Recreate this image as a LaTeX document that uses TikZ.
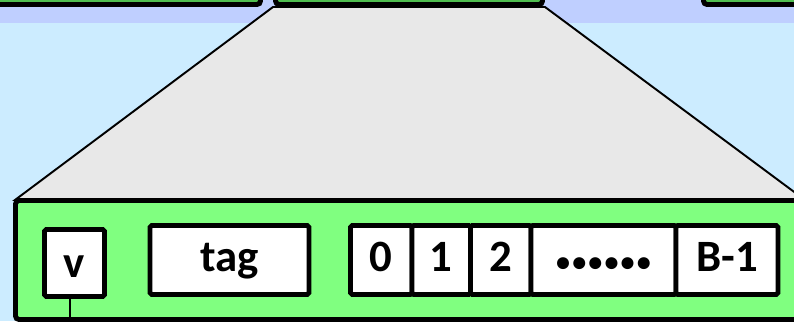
\documentclass[tikz,border=0pt]{standalone}
\usepackage{fontspec}
\setmainfont{Carlito}
\usepackage{tikz}
\usetikzlibrary{positioning}
\definecolor{bandviolet}{RGB}{191,207,255}
\definecolor{bandcyan}{RGB}{204,236,255}
\definecolor{zoomgray}{RGB}{232,232,232}
\definecolor{linegreen}{RGB}{128,255,128}
\definecolor{topgreen}{RGB}{80,190,80}
\newcommand{\dotsep}{\kern1.2pt}

\begin{document}
\begin{tikzpicture}[
    x=0.02cm, y=-0.02cm,
    linebox/.style={draw, line width=2.8pt, rounded corners=2pt},
    cell/.style={draw, line width=2.8pt, fill=white, rounded corners=1pt,
        inner sep=0pt, minimum height=69*0.02cm,
        text height=16pt, text depth=2.4pt,
        font=\bfseries\fontsize{25.5}{30}\selectfont}
]

    \useasboundingbox (0,0) rectangle (794,321);
    \clip (0,0) rectangle (794,321);

    % background bands
    \fill[bandcyan] (0,0) rectangle (794,321);
    \fill[bandviolet] (0,0) rectangle (794,23);

    % zoom outline
    \draw[fill=zoomgray, line width=1.1pt] (273,7) -- (545,7) -- (805,200) -- (15,200) -- cycle;

    % cache lines at the top
    \draw[linebox, fill=topgreen] (-20,-40) rectangle (260.5,4.5);
    \draw[linebox, fill=topgreen] (275.5,-40) rectangle (542.5,4.5);
    \draw[linebox, fill=topgreen] (703.5,-40) rectangle (840,4.5);

    % expanded line
    \draw[linebox, fill=linegreen] (15.5,200.5) rectangle (840,319.5);

    % valid bit and tag
    \node[cell, minimum width=60*0.02cm, minimum height=67*0.02cm,
        text height=18pt, text depth=1pt] (v) at (74.5,263) {v};
    \node[cell, minimum width=159*0.02cm] (tag) at (229.5,260) {tag};

    % data block
    \node[cell, minimum width=61.5*0.02cm] (b0) at (381.25,260) {0};
    \node[cell, minimum width=58.5*0.02cm] (b1) at (441.25,260) {1};
    \node[cell, minimum width=60.5*0.02cm] (b2) at (500.75,260) {2};
    \node[cell, minimum width=145*0.02cm, font=\bfseries\fontsize{16}{20}\selectfont]
        (bdots) at (603.5,260) {•\dotsep•\dotsep•\dotsep•\dotsep•\dotsep•};
    \node[cell, minimum width=102*0.02cm] (blast) at (727,260) {B-1};

    % wire from the valid bit
    \coordinate (vout) at (70,330);
    \draw[line width=1.1pt] (v.south -| vout) -- (vout);

\end{tikzpicture}
\end{document}
